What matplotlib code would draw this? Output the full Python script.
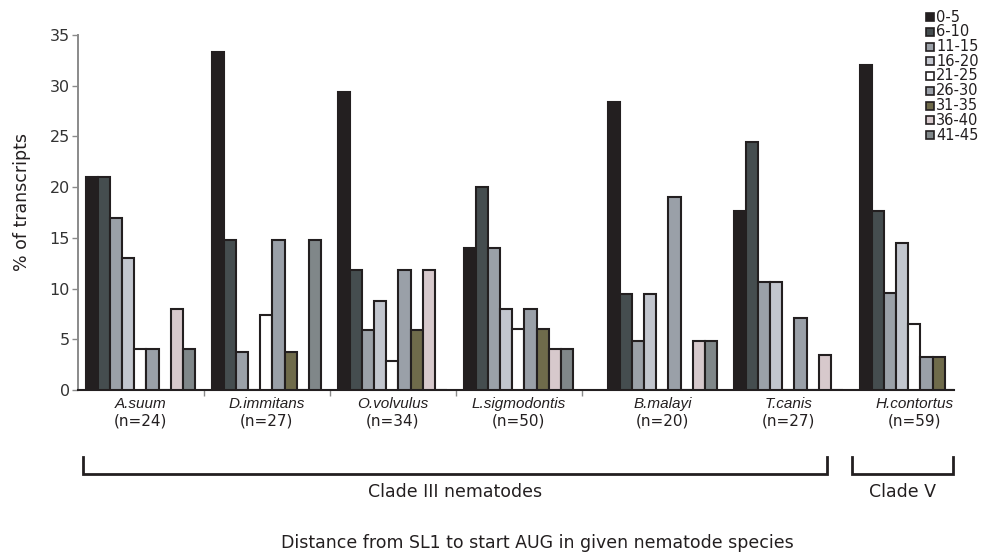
import numpy as np
import matplotlib
matplotlib.use('Agg')
import matplotlib.pyplot as plt
from matplotlib.patches import Rectangle

# distance bins (nt from SL1 to AUG)
bins = ['0-5', '6-10', '11-15', '16-20', '21-25', '26-30', '31-35', '36-40', '41-45']
bin_colors = ['#231F20', '#454D4F', '#9BA1A8', '#C2C6CE', '#FFFFFF',
              '#9AA0A8', '#6F6B4B', '#D7C9CC', '#808789']

species = ['A.suum', 'D.immitans', 'O.volvulus', 'L.sigmodontis',
           'B.malayi', 'T.canis', 'H.contortus']
n_counts = [24, 27, 34, 50, 20, 27, 59]

# % of transcripts per bin, one list per species
a_suum = [21, 21, 17, 13, 4, 4, 0, 8, 4]
d_immitans = [33.3, 14.8, 3.7, 0, 7.4, 14.8, 3.7, 0, 14.8]
o_volvulus = [29.4, 11.8, 5.9, 8.8, 2.9, 11.8, 5.9, 11.8, 0]
l_sigmodontis = [14, 20, 14, 8, 6, 8, 6, 4, 4]
b_malayi = [28.4, 9.5, 4.8, 9.5, 0, 19, 0, 4.8, 4.8]
t_canis = [17.6, 24.5, 10.6, 10.6, 0, 7.1, 0, 3.5, 0]
h_contortus = [32, 17.6, 9.6, 14.5, 6.5, 3.3, 3.3, 0, 0]

values = np.array([a_suum, d_immitans, o_volvulus, l_sigmodontis,
                   b_malayi, t_canis, h_contortus])

dark = '#231F20'

fig = plt.figure(figsize=(9.83, 5.55), dpi=100)
ax = fig.add_axes([78/983, 1-390/555, 876/983, 355/555])

# group positions: a little extra room before B.malayi
group_left = np.arange(len(species)) + np.where(np.arange(len(species)) >= 4, 0.143, 0)
bw = 0.096
pad = 0.063

for k in range(len(bins)):
    ax.bar(group_left + pad + k*bw, values[:, k], width=bw, align='edge',
           color=bin_colors[k], edgecolor=dark, linewidth=1.5, zorder=3)

ax.set_xlim(0, 876/126)
ax.set_ylim(0, 35)
ax.set_yticks(np.arange(0, 36, 5))
ax.tick_params(axis='y', direction='out', length=4, width=1, color='#8a8a8a',
               labelsize=11.5, labelcolor='#333333', pad=2)
ax.set_xticks([1, 2, 3, 4])
ax.set_xticklabels([])
ax.tick_params(axis='x', direction='out', length=4, width=1, color='#8a8a8a')

ax.spines['top'].set_visible(False)
ax.spines['right'].set_visible(False)
ax.spines['left'].set_color('#8a8a8a')
ax.spines['left'].set_linewidth(1.4)
ax.spines['bottom'].set_color(dark)
ax.spines['bottom'].set_linewidth(1.5)

# category labels
tr = ax.get_xaxis_transform()
centers = group_left + pad + len(bins)*bw/2
for c, sp, n in zip(centers, species, n_counts):
    ax.text(c, -(408-390)/355, sp, transform=tr, ha='center', va='baseline',
            fontsize=11, style='italic', family='Liberation Sans', color=dark)
    ax.text(c, -(426-390)/355, '(n=%d)' % n, transform=tr, ha='center', va='baseline',
            fontsize=11, color=dark)

# clade brackets
y_top = -(457-390)/355
y_bot = -(474-390)/355
for x0, x1, name in [(0.04, 5.944, 'Clade III nematodes'), (6.143, 6.944, 'Clade V')]:
    ax.plot([x0, x0, x1, x1], [y_top, y_bot, y_bot, y_top], transform=tr,
            color=dark, lw=2, clip_on=False, solid_joinstyle='miter')
    ax.text((x0+x1)/2, -(497-390)/355, name, transform=tr, ha='center',
            va='baseline', fontsize=12.5, color=dark)

fig.text(22/983, 1-202/555, '% of transcripts', rotation=90, ha='center',
         va='center', fontsize=12.5, color=dark)
fig.text(537/983, 1-548/555, 'Distance from SL1 to start AUG in given nematode species',
         ha='center', va='baseline', fontsize=12.5, color=dark)

# legend drawn by hand in the top right corner
for i, (lab, col) in enumerate(zip(bins, bin_colors)):
    yc = 17 + 14.75*i
    fig.patches.append(Rectangle((926/983, 1-(yc+4)/555), 8/983, 8/555,
                                 transform=fig.transFigure, facecolor=col,
                                 edgecolor=dark, linewidth=1.2))
    fig.text(936/983, 1-yc/555, lab, ha='left', va='center',
             fontsize=10.5, color=dark)

fig.savefig('out.png', dpi=100)
